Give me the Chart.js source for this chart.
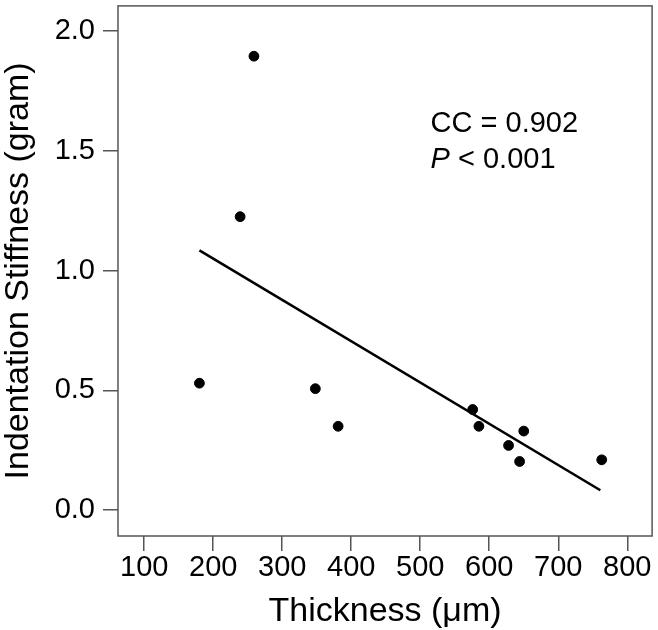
<!DOCTYPE html>
<html>
<head>
<meta charset="utf-8">
<script src="https://cdn.jsdelivr.net/npm/chart.js@4"></script>
<style>
    html, body { margin: 0; padding: 0; background: #fff; }
    #wrap { width: 658px; height: 630px; position: relative; }
</style>
</head>
<body>
<div id="wrap"><canvas id="chart"></canvas></div>
<script>
// measured points
const thickness = [180, 239, 259, 348, 381, 576, 585, 628, 644, 650, 763];
const stiffness = [0.53, 1.225, 1.895, 0.507, 0.35, 0.42, 0.35, 0.27, 0.203, 0.33, 0.21];

// fitted line end points
const fitX = [180, 761];
const fitY = [1.084, 0.083];

const xTicks = [100, 200, 300, 400, 500, 600, 700, 800];
const yTicks = [0, 0.5, 1.0, 1.5, 2.0];

const noteLines = ['CC = 0.902', '< 0.001'];
const notePos = { x: 515, y: 1.58 };

const FONT = "'Liberation Sans', Arial, Helvetica, sans-serif";
const AXIS_COLOR = '#555';

// box around the plot area + the text note
const boxPlugin = {
    id: 'box',
    afterDraw(chart) {
        const { ctx, chartArea, scales } = chart;
        ctx.save();
        ctx.strokeStyle = AXIS_COLOR;
        ctx.lineWidth = 1.5;
        ctx.strokeRect(chartArea.left, chartArea.top, chartArea.right - chartArea.left, chartArea.bottom - chartArea.top);

        const x = scales.x.getPixelForValue(notePos.x);
        const y = scales.y.getPixelForValue(notePos.y);
        ctx.fillStyle = '#000';
        ctx.textBaseline = 'alphabetic';
        ctx.textAlign = 'left';
        ctx.font = '29px ' + FONT;
        ctx.fillText(noteLines[0], x, y);
        ctx.font = 'italic 29px ' + FONT;
        ctx.fillText('P', x, y + 36);
        const pw = ctx.measureText('P ').width;
        ctx.font = '29px ' + FONT;
        ctx.fillText(noteLines[1], x + pw, y + 36);
        ctx.restore();
    },
};

const ctx = document.getElementById('chart');
new Chart(ctx, {
    type: 'scatter',
    data: {
        datasets: [
            {
                label: 'points',
                data: thickness.map((t, i) => ({ x: t, y: stiffness[i] })),
                backgroundColor: '#000',
                borderColor: '#000',
                pointRadius: 4.9,
                pointHoverRadius: 4.9,
            },
            {
                label: 'fit',
                type: 'line',
                data: fitX.map((t, i) => ({ x: t, y: fitY[i] })),
                borderColor: '#000',
                borderWidth: 2.6,
                pointRadius: 0,
                fill: false,
            },
        ],
    },
    options: {
        responsive: true,
        maintainAspectRatio: false,
        animation: false,
        layout: {
            padding: { top: 0, right: 3, left: 0, bottom: 0 },
        },
        plugins: {
            legend: { display: false },
            tooltip: { enabled: false },
        },
        scales: {
            x: {
                type: 'linear',
                min: 62,
                max: 836,
                afterBuildTicks: (scale) => {
                    scale.ticks = xTicks.map((v) => ({ value: v }));
                },
                afterFit: (scale) => {
                    scale.height = 94;
                    scale.paddingLeft = 0;
                    scale.paddingRight = 0;
                },
                border: { display: false },
                grid: {
                    drawOnChartArea: false,
                    drawTicks: true,
                    tickLength: 15,
                    color: AXIS_COLOR,
                    lineWidth: 1.5,
                },
                ticks: {
                    color: '#000',
                    padding: 0,
                    maxRotation: 0,
                    font: { family: FONT, size: 29 },
                },
                title: {
                    display: true,
                    text: 'Thickness (μm)',
                    color: '#000',
                    padding: { top: 0, bottom: 1 },
                    font: { family: FONT, size: 34, lineHeight: 1 },
                },
            },
            y: {
                type: 'linear',
                min: -0.108,
                max: 2.105,
                afterBuildTicks: (scale) => {
                    scale.ticks = yTicks.map((v) => ({ value: v }));
                },
                afterFit: (scale) => {
                    scale.width = 118;
                    scale.paddingTop = 0;
                    scale.paddingBottom = 0;
                },
                border: { display: false },
                grid: {
                    drawOnChartArea: false,
                    drawTicks: true,
                    tickLength: 15,
                    color: AXIS_COLOR,
                    lineWidth: 1.5,
                },
                ticks: {
                    color: '#000',
                    padding: 8,
                    font: { family: FONT, size: 29 },
                    callback: (v) => v.toFixed(1),
                },
                title: {
                    display: true,
                    text: 'Indentation Stiffness (gram)',
                    color: '#000',
                    padding: { top: 2, bottom: 0 },
                    font: { family: FONT, size: 34, lineHeight: 1 },
                },
            },
        },
    },
    plugins: [boxPlugin],
});
</script>
</body>
</html>
